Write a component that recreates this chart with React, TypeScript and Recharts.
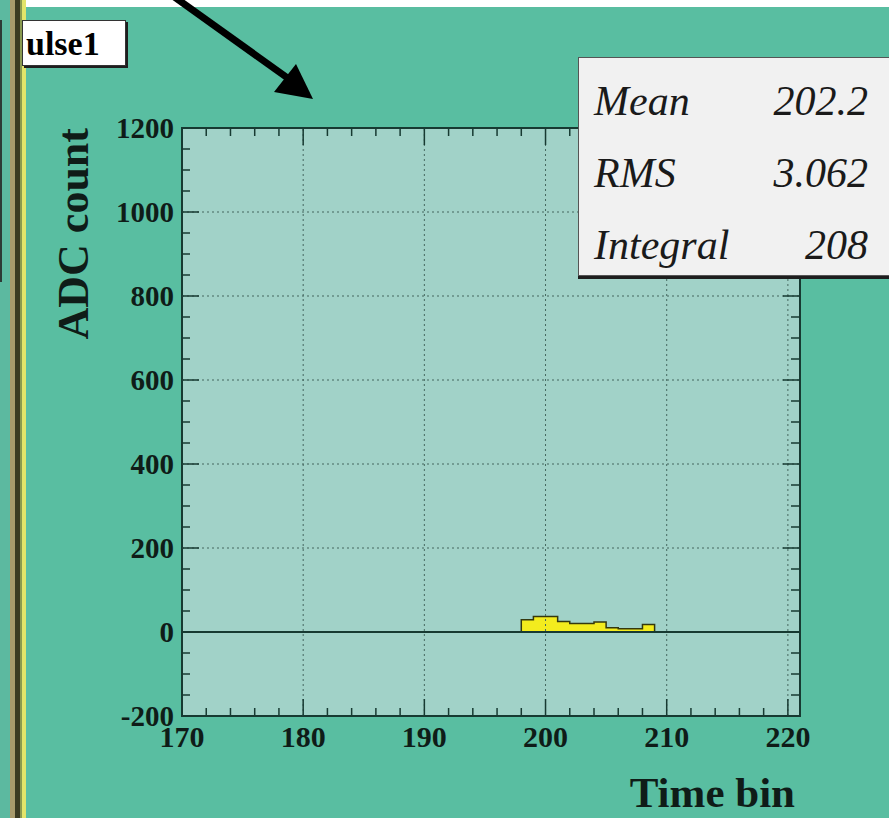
import React from 'react'
import {
  ComposedChart,
  Area,
  Line,
  XAxis,
  YAxis,
  CartesianGrid,
  ReferenceLine,
  ReferenceArea,
  Label,
} from 'recharts'

// histogram "pulse1": bin low edges and contents
const binStarts = [198, 199, 200, 201, 202, 203, 204, 205, 206, 207, 208]
const binCounts = [29, 37, 37, 25, 20, 20, 24, 10, 8, 8, 18]
const binWidth = 1

const xDomain = [170, 221]
const yDomain = [-200, 1200]
const xTicks = [170, 172, 174, 176, 178, 180, 182, 184, 186, 188, 190, 192, 194, 196, 198, 200, 202, 204, 206, 208, 210, 212, 214, 216, 218, 220]
const xMajor = [170, 180, 190, 200, 210, 220]
const yTicks = [-200, -150, -100, -50, 0, 50, 100, 150, 200, 250, 300, 350, 400, 450, 500, 550, 600, 650, 700, 750, 800, 850, 900, 950, 1000, 1050, 1100, 1150, 1200]
const yMajor = [-200, 0, 200, 400, 600, 800, 1000, 1200]
const xGrid = [180, 190, 200, 210, 220]
const yGrid = [200, 400, 600, 800, 1000]
const statNames = ['Mean', 'RMS', 'Integral']
const statValues = ['202.2', '3.062', '208']

const SERIF = '"Liberation Serif", "Times New Roman", serif'
const BG = '#59bea1'
const PAD = '#a1d2c8'
const FRAME = '#173a32'
const GRID = '#45675f'
const INK = '#0f1c18'

// step outline: start at 0, each bin's height, drop back to 0 after the last bin
const histData = [
  { t: binStarts[0], v: 0 },
  ...binStarts.map((b, i) => ({ t: b, v: binCounts[i] })),
  { t: binStarts[binStarts.length - 1] + binWidth, v: 0 },
]

const LeftTick = (props: any) => {
  const { x, y, payload } = props
  const major = yMajor.includes(payload.value)
  return (
    <g>
      <line x1={x} x2={x + (major ? 17 : 8)} y1={y} y2={y} stroke={FRAME} strokeWidth={1.5} />
      {major && (
        <text x={x - 8} y={y} dy={10} textAnchor="end" fontFamily={SERIF} fontWeight="bold" fontSize={29} fill={INK}>
          {payload.value}
        </text>
      )}
    </g>
  )
}

const RightTick = (props: any) => {
  const { x, y, payload } = props
  const major = yMajor.includes(payload.value)
  return <line x1={x} x2={x - (major ? 17 : 9)} y1={y} y2={y} stroke={FRAME} strokeWidth={1.5} />
}

const BottomTick = (props: any) => {
  const { x, y, payload } = props
  const major = xMajor.includes(payload.value)
  return (
    <g>
      <line x1={x} x2={x} y1={y} y2={y - (major ? 17 : 8)} stroke={FRAME} strokeWidth={1.5} />
      {major && (
        <text x={x} y={y + 31} textAnchor="middle" fontFamily={SERIF} fontWeight="bold" fontSize={30} fill={INK}>
          {payload.value}
        </text>
      )}
    </g>
  )
}

const TopTick = (props: any) => {
  const { x, y, payload } = props
  const major = xMajor.includes(payload.value)
  return <line x1={x} x2={x} y1={y} y2={y + (major ? 17 : 8)} stroke={FRAME} strokeWidth={1.5} />
}

export default function App() {
  return (
    <div style={{ position: 'absolute', left: 0, top: 0, width: 889, height: 818, background: BG, overflow: 'hidden' }}>
      <ComposedChart width={889} height={818} margin={{ top: 0, right: 0, bottom: 0, left: 0 }}>
        <CartesianGrid fill={PAD} horizontal={false} vertical={false} stroke="none" />
        <XAxis
          xAxisId="b"
          type="number"
          dataKey="t"
          orientation="bottom"
          height={102}
          domain={xDomain}
          ticks={xTicks}
          interval={0}
          allowDataOverflow
          tickSize={0}
          tickMargin={0}
          tickLine={false}
          axisLine={false}
          tick={<BottomTick />}
        >
          <Label
            content={(p: any) => (
              <text
                x={p.viewBox.x + p.viewBox.width - 5}
                y={p.viewBox.y + 91}
                textAnchor="end"
                fontFamily={SERIF}
                fontWeight="bold"
                fontSize={43}
                fill={INK}
              >
                Time bin
              </text>
            )}
          />
        </XAxis>
        <XAxis
          xAxisId="t"
          type="number"
          dataKey="t"
          orientation="top"
          height={128}
          domain={xDomain}
          ticks={xTicks}
          interval={0}
          allowDataOverflow
          tickSize={0}
          tickMargin={0}
          tickLine={false}
          axisLine={false}
          tick={<TopTick />}
        />
        <YAxis
          yAxisId="l"
          type="number"
          orientation="left"
          width={182}
          domain={yDomain}
          ticks={yTicks}
          interval={0}
          allowDataOverflow
          tickSize={0}
          tickMargin={0}
          tickLine={false}
          axisLine={false}
          tick={<LeftTick />}
        >
          <Label
            content={(p: any) => (
              <text
                x={p.viewBox.x + 88}
                y={p.viewBox.y}
                transform={`rotate(-90 ${p.viewBox.x + 88} ${p.viewBox.y})`}
                textAnchor="end"
                fontFamily={SERIF}
                fontWeight="bold"
                fontSize={44}
                fill={INK}
              >
                ADC count
              </text>
            )}
          />
        </YAxis>
        <YAxis
          yAxisId="r"
          type="number"
          orientation="right"
          width={89}
          domain={yDomain}
          ticks={yTicks}
          interval={0}
          allowDataOverflow
          tickSize={0}
          tickMargin={0}
          tickLine={false}
          axisLine={false}
          tick={<RightTick />}
        />

        {xGrid.map((v) => (
          <ReferenceLine key={`gx${v}`} x={v} xAxisId="b" yAxisId="l" stroke={GRID} strokeDasharray="2 3" strokeWidth={1} />
        ))}
        {yGrid.map((v) => (
          <ReferenceLine key={`gy${v}`} y={v} xAxisId="b" yAxisId="l" stroke={GRID} strokeDasharray="2 3" strokeWidth={1} />
        ))}
        <ReferenceLine y={0} xAxisId="b" yAxisId="l" stroke={FRAME} strokeWidth={2} />

        <Line
          data={histData}
          xAxisId="t"
          yAxisId="r"
          dataKey="v"
          stroke="none"
          dot={false}
          activeDot={false}
          isAnimationActive={false}
        />
        <Area
          data={histData}
          xAxisId="b"
          yAxisId="l"
          dataKey="v"
          type="stepAfter"
          baseValue={0}
          fill="#f3ec1e"
          fillOpacity={1}
          stroke="#34380f"
          strokeWidth={1.5}
          dot={false}
          activeDot={false}
          isAnimationActive={false}
        />

        <ReferenceArea
          x1={xDomain[0]}
          x2={xDomain[1]}
          y1={yDomain[0]}
          y2={yDomain[1]}
          xAxisId="b"
          yAxisId="l"
          fill="none"
          stroke={FRAME}
          strokeWidth={2}
        />
      </ComposedChart>

      {/* canvas decorations: top strip, left window edge, arrow */}
      <svg width={889} height={818} style={{ position: 'absolute', left: 0, top: 0, pointerEvents: 'none' }}>
        <rect x={0} y={0} width={889} height={7} fill="#ffffff" />
        <rect x={0} y={0} width={10} height={818} fill="#5cb9a0" />
        <line x1={1} x2={1} y1={20} y2={282} stroke="#2d3a36" strokeWidth={2} />
        <rect x={10} y={0} width={5} height={818} fill="#a89a6c" />
        <rect x={15} y={0} width={5} height={818} fill="#3b3a22" />
        <rect x={20} y={0} width={2} height={818} fill="#8a9a50" />
        <rect x={22} y={0} width={4} height={818} fill="#e2e46a" />
        <line x1={173} y1={-4} x2={296} y2={84} stroke="#000" strokeWidth={7} />
        <polygon points="313,99 274,92 296,64" fill="#000" />
      </svg>

      {/* histogram title */}
      <div
        style={{
          position: 'absolute',
          left: 22,
          top: 20,
          width: 104,
          height: 46,
          background: '#ffffff',
          border: '1px solid #333',
          boxShadow: '2px 2px 0 #1e1e1e',
          fontFamily: SERIF,
          fontWeight: 'bold',
          fontSize: 34,
          lineHeight: '46px',
          paddingLeft: 3,
          boxSizing: 'border-box',
          color: '#000',
        }}
      >
        ulse1
      </div>

      {/* stats box */}
      <div
        style={{
          position: 'absolute',
          left: 578,
          top: 57,
          width: 320,
          height: 219,
          background: '#f1f1f1',
          border: '1px solid #555',
          boxShadow: '0 3px 0 #1e1e1e',
          boxSizing: 'border-box',
          fontFamily: SERIF,
          fontStyle: 'italic',
          fontSize: 42,
          color: '#1a1a1a',
        }}
      >
        {statNames.map((n, i) => (
          <div key={n} style={{ position: 'absolute', left: 15, top: 18 + i * 72, width: 274, height: 50, lineHeight: '50px' }}>
            <span style={{ position: 'absolute', left: 0 }}>{n}</span>
            <span style={{ position: 'absolute', right: 0 }}>{statValues[i]}</span>
          </div>
        ))}
      </div>
    </div>
  )
}
